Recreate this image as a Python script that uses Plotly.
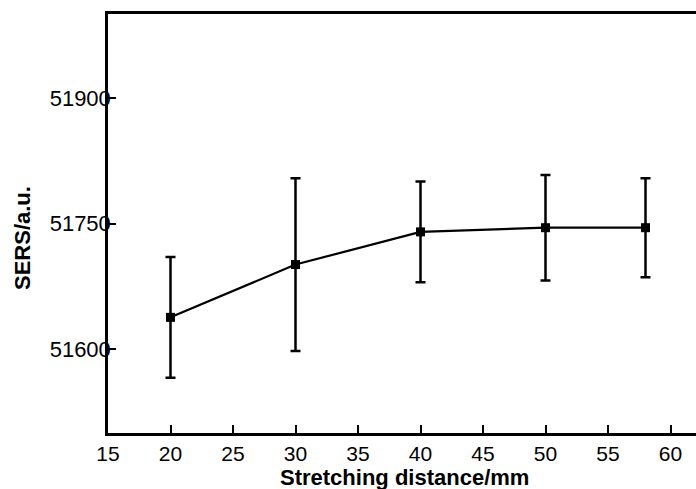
import plotly.graph_objects as go

distance = [20, 30, 40, 50, 58]
sers = [51638, 51701, 51740, 51745, 51745]
sers_err = [72, 103, 60, 63, 59]
x_ticks = [15, 20, 25, 30, 35, 40, 45, 50, 55, 60]
y_ticks = [51600, 51750, 51900]

FONT = "Liberation Sans, Arial, sans-serif"
W, H = 696, 489
ML, MT, MB = 108, 14, 56

fig = go.Figure()
fig.add_trace(go.Scatter(
    x=distance, y=sers,
    mode="lines+markers",
    line=dict(color="black", width=2.2),
    marker=dict(symbol="square", size=9, color="black"),
    error_y=dict(type="data", array=sers_err, visible=True,
                 color="black", thickness=2.5, width=5),
    showlegend=False,
))

pw = W - ML
ph = H - MT - MB

fig.update_layout(
    width=W, height=H,
    margin=dict(l=ML, r=0, t=MT, b=MB, autoexpand=False),
    paper_bgcolor="white", plot_bgcolor="white",
    font=dict(family=FONT, color="black", size=21),
    xaxis=dict(range=[15, 15 + pw / 12.5], tickvals=x_ticks,
               ticktext=[str(v) for v in x_ticks],
               ticks="inside", ticklen=8,
               tickwidth=2, tickcolor="black", showline=True, linewidth=2.5,
               linecolor="black", mirror=True, showgrid=False, zeroline=False,
               tickfont=dict(size=21, family=FONT)),
    yaxis=dict(range=[51500, 52000], tickvals=y_ticks,
               ticktext=[str(v) for v in y_ticks],
               ticks="inside", ticklen=8, ticklabelstandoff=-10,
               tickwidth=2, tickcolor="black", showline=True, linewidth=2.5,
               linecolor="black", mirror=False, showgrid=False, zeroline=False,
               tickfont=dict(size=22, family=FONT)),
    annotations=[
        dict(text="<b>Stretching distance/mm</b>", xref="paper", yref="paper",
             x=(405 - ML) / pw, y=(H - MB - 477) / ph,
             xanchor="center", yanchor="middle", showarrow=False,
             font=dict(size=22, family=FONT)),
        dict(text="<b>SERS/a.u.</b>", xref="paper", yref="paper",
             x=(22 - ML) / pw, y=(H - MB - 238) / ph,
             xanchor="center", yanchor="middle", showarrow=False, textangle=-90,
             font=dict(size=22, family=FONT)),
    ],
)

fig.write_html(
    "out.html",
    config={"displayModeBar": False},
    post_script="document.body.style.margin='0';document.body.style.overflow='hidden';",
)
